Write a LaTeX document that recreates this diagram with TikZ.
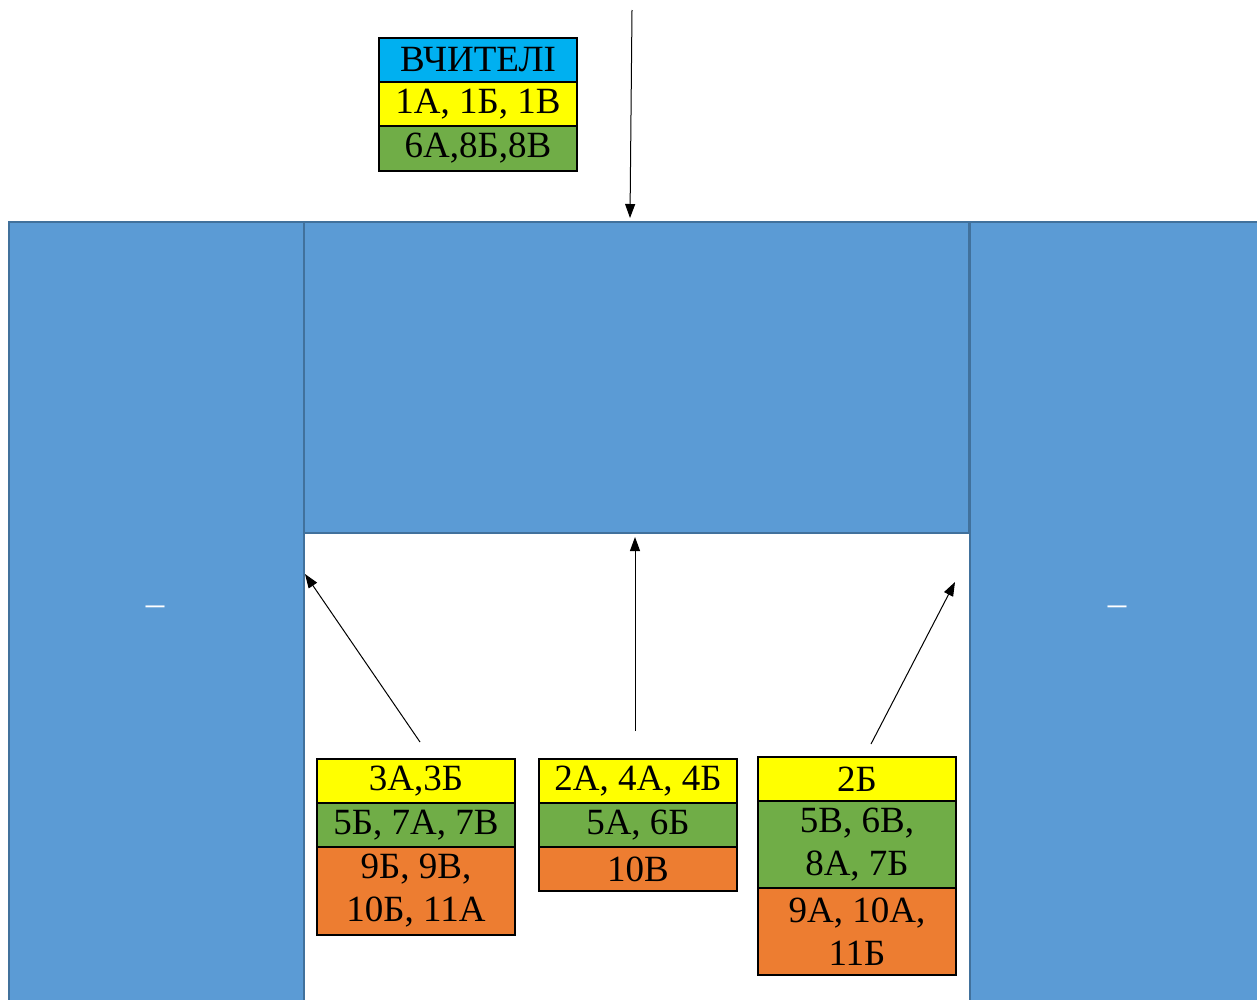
\documentclass[tikz,border=0pt]{standalone}
\usepackage{fontspec}
\setmainfont{Liberation Serif}
\usetikzlibrary{arrows.meta}
\definecolor{blk}{HTML}{5B9BD5}
\definecolor{blkline}{HTML}{41719C}
\definecolor{lblue}{HTML}{00B0F0}
\definecolor{yel}{HTML}{FFFF00}
\definecolor{grn}{HTML}{70AD47}
\definecolor{org}{HTML}{ED7D31}
\begin{document}
\begin{tikzpicture}[x=1pt,y=-1pt,
  block/.style={draw=blkline, line width=2pt, fill=blk},
  cell/.style={draw=black, line width=2pt, minimum width=198pt, inner sep=0pt, align=center,
    font=\fontsize{37}{43}\selectfont},
  arr/.style={-{Triangle[length=14pt,width=10pt]}, line width=1pt, black},
  dashlbl/.style={text=white, inner sep=0pt, anchor=base, font=\fontsize{37}{43}\selectfont}]
\useasboundingbox (0,0) rectangle (1257,999);
\clip (0,0) rectangle (1257,999);
% blocks
\draw[block] (303,222) rectangle (969,533);
\node[block, inner sep=0pt, minimum width=295pt, minimum height=800pt, anchor=north west] (lb) at (8,221) {};
\node[block, inner sep=0pt, minimum width=300pt, minimum height=800pt, anchor=north west] (rb) at (969,221) {};
\coordinate (mtop) at (630,218);
\coordinate (mbot) at (635,537);
\node[dashlbl] (ld) at (155,615) {–};
\node[dashlbl] (rd) at (1117,615) {–};
% legend
\node[cell, fill=lblue, minimum height=44pt] (lg1) at (478,60) {ВЧИТЕЛІ};
\node[cell, fill=yel, minimum height=44pt] (lg2) at (478,104) {1А, 1Б, 1В};
\node[cell, fill=grn, minimum height=45pt] (lg3) at (478,148.5) {6А,8Б,8В};
% table 1
\node[cell, fill=yel, minimum height=44pt] (a1) at (416,781) {3А,3Б};
\node[cell, fill=grn, minimum height=44pt] (a2) at (416,825) {5Б, 7А, 7В};
\node[cell, fill=org, minimum height=88pt] (a3) at (416,891) {9Б, 9В,\\10Б, 11А};
% table 2
\node[cell, fill=yel, minimum height=44pt] (b1) at (638,781) {2А, 4А, 4Б};
\node[cell, fill=grn, minimum height=44pt] (b2) at (638,825) {5А, 6Б};
\node[cell, fill=org, minimum height=44pt] (b3) at (638,869) {10В};
% table 3
\node[cell, fill=yel, minimum height=44pt] (c1) at (857,779) {2Б};
\node[cell, fill=grn, minimum height=87pt] (c2) at (857,844.5) {5В, 6В,\\8А, 7Б};
\node[cell, fill=org, minimum height=87pt] (c3) at (857,931.5) {9А, 10А,\\11Б};
% arrows
\coordinate (ts) at (632,10);
\draw[arr] (ts) -- (mtop);
\coordinate (as) at (420,742);
\coordinate (ae) at (305,574);
\draw[arr] (as) -- (ae);
\coordinate (bs) at (635,731);
\draw[arr] (bs) -- (mbot);
\coordinate (cs) at (871,744);
\coordinate (ce) at (955,582);
\draw[arr] (cs) -- (ce);
\end{tikzpicture}
\end{document}
